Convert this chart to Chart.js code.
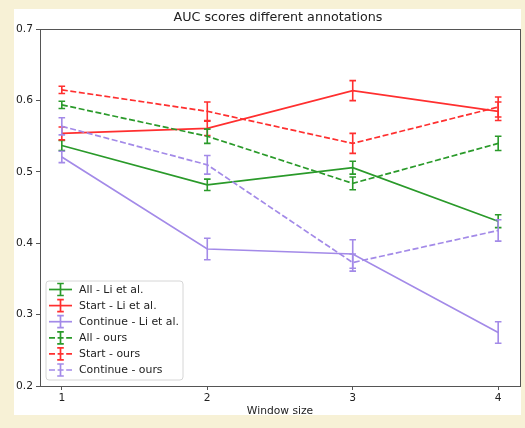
<!DOCTYPE html>
<html>
<head>
<meta charset="utf-8">
<script src="https://cdn.jsdelivr.net/npm/chart.js@4/dist/chart.umd.min.js"></script>
<style>
  html, body { margin: 0; padding: 0; background: #f7f1d6; overflow: hidden; }
  #panel { position: absolute; left: 14px; top: 9px; width: 507px; height: 406px; background: #ffffff; }
  #wrap { position: absolute; left: 0; top: 0; width: 525px; height: 428px; }
</style>
</head>
<body>
<div id="panel"></div>
<div id="wrap"><canvas id="c" width="525" height="428"></canvas></div>
<script>
// ---- data ----
const windowSizes = [1, 2, 3, 4];
const yTickValues = [0.2, 0.3, 0.4, 0.5, 0.6, 0.7];
const seriesLabels = ["All - Li et al.", "Start - Li et al.", "Continue - Li et al.", "All - ours", "Start - ours", "Continue - ours"];

const allLi      = [0.537, 0.482, 0.506, 0.431];
const allLiErr   = [0.007, 0.008, 0.009, 0.009];
const startLi    = [0.554, 0.561, 0.614, 0.585];
const startLiErr = [0.009, 0.010, 0.014, 0.013];
const contLi     = [0.521, 0.392, 0.385, 0.275];
const contLiErr  = [0.008, 0.015, 0.020, 0.015];
const allOurs      = [0.594, 0.550, 0.484, 0.540];
const allOursErr   = [0.005, 0.010, 0.009, 0.010];
const startOurs    = [0.615, 0.585, 0.540, 0.591];
const startOursErr = [0.005, 0.013, 0.014, 0.014];
const contOurs     = [0.564, 0.510, 0.373, 0.418];
const contOursErr  = [0.012, 0.013, 0.012, 0.015];

const GREEN = "#2a9a2a", RED = "#ff2f2f", PURPLE = "#a38ae8";
const FONT = "'DejaVu Sans', sans-serif";
const DASH = [6, 2.6];

function mk(label, vals, errs, color, dashed, idx) {
  return {
    label: label,
    data: windowSizes.map((x, i) => ({ x: x, y: vals[i] })),
    errors: errs,
    borderColor: color,
    backgroundColor: color,
    borderWidth: 1.7,
    borderDash: dashed ? DASH : [],
    pointRadius: 0,
    tension: 0,
    fill: false,
    order: 10 - idx
  };
}

const datasets = [
  mk(seriesLabels[0], allLi, allLiErr, GREEN, false, 0),
  mk(seriesLabels[1], startLi, startLiErr, RED, false, 1),
  mk(seriesLabels[2], contLi, contLiErr, PURPLE, false, 2),
  mk(seriesLabels[3], allOurs, allOursErr, GREEN, true, 3),
  mk(seriesLabels[4], startOurs, startOursErr, RED, true, 4),
  mk(seriesLabels[5], contOurs, contOursErr, PURPLE, true, 5)
];

const errorBars = {
  id: 'errorBars',
  afterDatasetDraw(chart, args) {
    const ds = chart.data.datasets[args.index];
    const ys = chart.scales.y, xs = chart.scales.x;
    const ctx = chart.ctx;
    ctx.save();
    ctx.strokeStyle = ds.borderColor;
    ctx.lineWidth = 1.6;
    ctx.setLineDash([]);
    ds.data.forEach((p, i) => {
      const e = ds.errors[i];
      const px = xs.getPixelForValue(p.x);
      const y1 = ys.getPixelForValue(p.y - e), y2 = ys.getPixelForValue(p.y + e);
      ctx.beginPath();
      ctx.moveTo(px, y1); ctx.lineTo(px, y2);
      ctx.moveTo(px - 3.3, y1); ctx.lineTo(px + 3.3, y1);
      ctx.moveTo(px - 3.3, y2); ctx.lineTo(px + 3.3, y2);
      ctx.stroke();
    });
    ctx.restore();
  }
};

const frame = {
  id: 'frame',
  afterDraw(chart) {
    const a = chart.chartArea, ctx = chart.ctx;
    ctx.save();
    ctx.strokeStyle = '#555';
    ctx.lineWidth = 1;
    ctx.strokeRect(Math.round(a.left) + 0.5, Math.round(a.top) + 0.5, Math.round(a.right - a.left), Math.round(a.bottom - a.top));
    ctx.restore();
  }
};

const boxLegend = {
  id: 'boxLegend',
  afterDraw(chart) {
    const ctx = chart.ctx, a = chart.chartArea;
    const bx = a.left + 6, by = 281, bw = 137, bh = 99;
    ctx.save();
    ctx.beginPath();
    const r = 3;
    ctx.moveTo(bx + r, by);
    ctx.arcTo(bx + bw, by, bx + bw, by + bh, r);
    ctx.arcTo(bx + bw, by + bh, bx, by + bh, r);
    ctx.arcTo(bx, by + bh, bx, by, r);
    ctx.arcTo(bx, by, bx + bw, by, r);
    ctx.closePath();
    ctx.fillStyle = 'rgba(255,255,255,0.85)';
    ctx.fill();
    ctx.strokeStyle = '#d6d6d6';
    ctx.lineWidth = 1;
    ctx.stroke();
    ctx.font = "10.9px " + FONT;
    ctx.textBaseline = 'middle';
    ctx.textAlign = 'left';
    chart.data.datasets.forEach((ds, i) => {
      const y = by + 8.5 + i * 16.1;
      const x0 = bx + 3, x1 = bx + 26, xm = (x0 + x1) / 2;
      ctx.strokeStyle = ds.borderColor;
      ctx.lineWidth = 1.7;
      ctx.setLineDash(ds.borderDash || []);
      ctx.beginPath(); ctx.moveTo(x0, y); ctx.lineTo(x1, y); ctx.stroke();
      ctx.setLineDash([]);
      ctx.beginPath();
      ctx.moveTo(xm, y - 6); ctx.lineTo(xm, y + 6);
      ctx.moveTo(xm - 3.3, y - 6); ctx.lineTo(xm + 3.3, y - 6);
      ctx.moveTo(xm - 3.3, y + 6); ctx.lineTo(xm + 3.3, y + 6);
      ctx.stroke();
      ctx.fillStyle = '#222';
      ctx.fillText(ds.label, bx + 33, y + 0.5);
    });
    ctx.restore();
  }
};

new Chart(document.getElementById('c'), {
  type: 'line',
  data: { datasets: datasets },
  options: {
    responsive: false,
    animation: false,
    layout: { padding: { left: 36, right: 5, top: 0, bottom: 10 } },
    plugins: {
      legend: { display: false },
      tooltip: { enabled: false },
      title: {
        display: true,
        text: 'AUC scores different annotations',
        color: '#222',
        font: { family: FONT, size: 12.7, weight: 'normal' },
        padding: { top: 10, bottom: 4 }
      }
    },
    scales: {
      x: {
        type: 'linear',
        min: 0.85, max: 4.15,
        afterBuildTicks: s => { s.ticks = windowSizes.map(v => ({ value: v })); },
        afterFit: s => { s.height = 32; },
        ticks: { color: '#222', font: { family: FONT, size: 10.7 }, padding: 2, callback: v => String(v) },
        grid: { display: true, drawOnChartArea: false, drawTicks: true, tickLength: 4, color: '#555' },
        border: { display: true, color: '#555' },
        title: { display: true, text: 'Window size', color: '#222', font: { family: FONT, size: 10.7 }, padding: { top: 0, bottom: 0 } }
      },
      y: {
        type: 'linear',
        min: 0.2, max: 0.7,
        afterBuildTicks: s => { s.ticks = yTickValues.map(v => ({ value: v })); },
        afterFit: s => { s.width = 4; },
        ticks: { mirror: true, crossAlign: 'far', color: '#222', font: { family: FONT, size: 10.7 }, padding: -24, callback: v => v.toFixed(1) },
        grid: { display: true, drawOnChartArea: false, drawTicks: true, tickLength: 4, color: '#555' },
        border: { display: true, color: '#555' }
      }
    }
  },
  plugins: [errorBars, frame, boxLegend]
});
</script>
</body>
</html>
